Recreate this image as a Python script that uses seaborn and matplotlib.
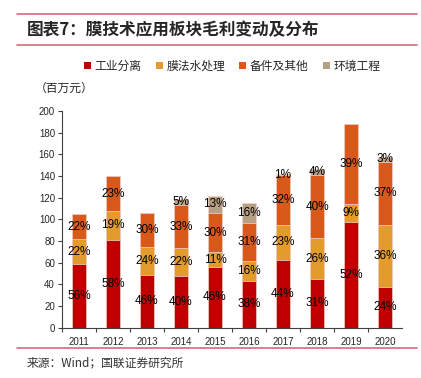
import matplotlib
matplotlib.use("Agg")
import matplotlib.pyplot as plt
from matplotlib.lines import Line2D
from matplotlib.patches import Patch
import numpy as np
import pandas as pd
import seaborn as sns

# gross profit by segment, million yuan
years = ["2011", "2012", "2013", "2014", "2015", "2016", "2017", "2018", "2019", "2020"]
industrial_sep = [58.8, 81.2, 48.8, 47.6, 56.1, 43.3, 62.5, 45.0, 97.8, 37.9]
water_treat = [23.1, 26.6, 25.4, 26.2, 13.4, 18.2, 32.7, 37.7, 16.9, 56.9]
parts_other = [23.1, 32.2, 31.8, 39.3, 36.6, 35.3, 45.4, 58.0, 73.3, 58.5]
env_eng = [0, 0, 0, 6.0, 15.9, 18.2, 1.4, 5.8, 0, 4.7]

series_names = ["工业分离", "膜法水处理", "备件及其他", "环境工程"]
colors = ["#C00000", "#E39B2B", "#D8591A", "#B5A084"]

sns.set_style("ticks")
plt.rcParams["font.family"] = ["Noto Sans CJK SC", "DejaVu Sans"]

df = pd.DataFrame({
    "year": years,
    series_names[0]: industrial_sep,
    series_names[1]: water_treat,
    series_names[2]: parts_other,
    series_names[3]: env_eng,
})
vals = df[series_names].to_numpy()
cum = vals.cumsum(axis=1)
totals = cum[:, -1]

fig = plt.figure(figsize=(4.21, 3.78), dpi=100)
ax = fig.add_axes([0.147, 0.133, 0.808, 0.573])

# stacked bars: draw cumulative heights from the top layer down
for i in range(len(series_names) - 1, -1, -1):
    sns.barplot(x=df["year"], y=cum[:, i], color=colors[i], width=0.4,
                edgecolor="#F4D6D0", linewidth=0.5, saturation=1, ax=ax)

for j in range(len(years)):
    for i in range(len(series_names)):
        v = vals[j, i]
        if v <= 0:
            continue
        pct = round(v / totals[j] * 100)
        ax.text(j, cum[j, i] - v / 2, f"{pct}%", ha="center", va="center",
                fontsize=8.5, family="Liberation Sans", color="black")

ax.set_ylim(0, 200)
ax.set_yticks(range(0, 201, 20))
ax.set_xlim(-0.5, len(years) - 0.5)
ax.set_xlabel("")
ax.set_ylabel("")
ax.set_xticks(np.arange(len(years)) - 0.5, minor=True)
ax.tick_params(axis="x", which="major", length=0, labelsize=7, pad=7)
ax.tick_params(axis="x", which="minor", length=3, width=0.8, color="#404040")
ax.tick_params(axis="y", length=3, width=0.8, color="#404040", labelsize=7, pad=2)
for lab in ax.get_xticklabels() + ax.get_yticklabels():
    lab.set_family("Liberation Sans")
for s in ["left", "bottom"]:
    ax.spines[s].set_color("#404040")
    ax.spines[s].set_linewidth(0.8)
sns.despine(ax=ax)

# header / footer rules
line_color = "#D9667A"
for y in [1 - 13.5 / 378, 1 - 45 / 378, 1 - 348 / 378]:
    fig.add_artist(Line2D([17 / 421, 417 / 421], [y, y], color=line_color, lw=1.2))

fig.text(27 / 421, 1 - 30 / 378, "图表7：膜技术应用板块毛利变动及分布", fontsize=12,
         fontweight="heavy", fontstyle="italic", va="center", ha="left")

handles = [Patch(facecolor=c, edgecolor="none") for c in colors]
fig.legend(handles, series_names, ncol=4, loc="center", bbox_to_anchor=(232 / 421, 1 - 66 / 378),
           frameon=False, fontsize=8.5, handlelength=0.6, handleheight=0.6,
           handletextpad=0.3, columnspacing=1.2)

fig.text(35 / 421, 1 - 88 / 378, "（百万元）", fontsize=8.5, va="center", ha="left")
fig.text(27 / 421, 1 - 363 / 378, "来源：Wind；国联证券研究所", fontsize=8.5, va="center",
         ha="left", color="#333333")

fig.savefig("out.png", dpi=100)
